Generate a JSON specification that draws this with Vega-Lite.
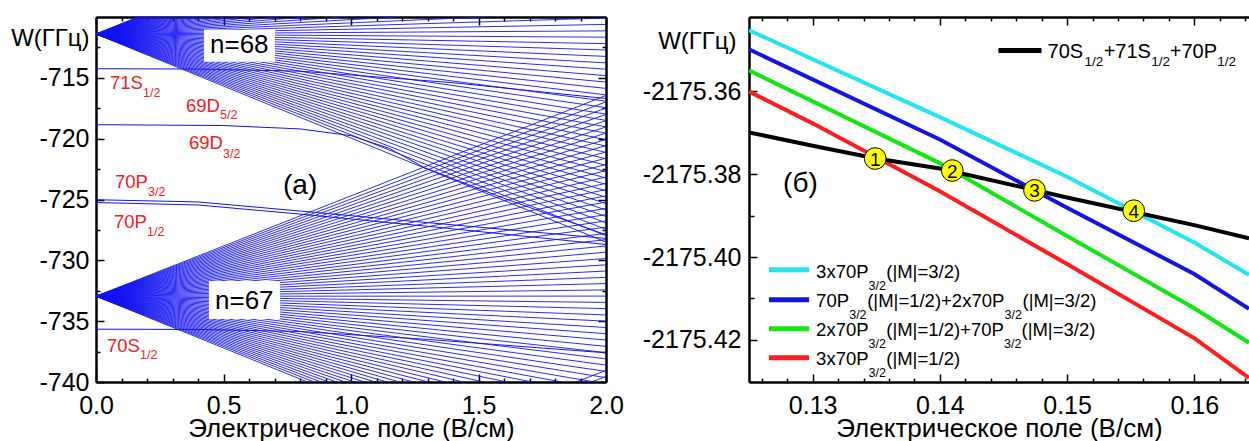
{
"$schema": "https://vega.github.io/schema/vega-lite/v6.json",
"padding": {"left": 10, "top": 16, "right": 0, "bottom": 0},
"spacing": 18,
"config": {
"font": "Liberation Sans",
"view": {"stroke": null},
"axis": {"grid": false, "labelFont": "Liberation Sans", "labelFontSize": 25, "labelColor": "#000", "titleFont": "Liberation Sans", "titleFontSize": 26, "titleFontWeight": "normal", "titleColor": "#000", "domainColor": "#000", "domainWidth": 2, "tickColor": "#000", "tickWidth": 1.5, "labelFlush": false, "labelOverlap": false}
},
"datasets": {
"fan": [
{"a":-711.4,"b":-728.50},{"a":-711.4,"b":-727.97},{"a":-711.4,"b":-727.45},{"a":-711.4,"b":-726.92},{"a":-711.4,"b":-726.40},{"a":-711.4,"b":-725.87},{"a":-711.4,"b":-725.34},{"a":-711.4,"b":-724.82},{"a":-711.4,"b":-724.29},{"a":-711.4,"b":-723.76},
{"a":-711.4,"b":-723.24},{"a":-711.4,"b":-722.71},{"a":-711.4,"b":-722.19},{"a":-711.4,"b":-721.66},{"a":-711.4,"b":-721.13},{"a":-711.4,"b":-720.61},{"a":-711.4,"b":-720.08},{"a":-711.4,"b":-719.55},{"a":-711.4,"b":-719.03},{"a":-711.4,"b":-718.50},
{"a":-711.4,"b":-717.98},{"a":-711.4,"b":-717.45},{"a":-711.4,"b":-716.92},{"a":-711.4,"b":-716.40},{"a":-711.4,"b":-715.87},{"a":-711.4,"b":-715.35},{"a":-711.4,"b":-714.82},{"a":-711.4,"b":-714.29},{"a":-711.4,"b":-713.77},{"a":-711.4,"b":-713.24},
{"a":-711.4,"b":-712.71},{"a":-711.4,"b":-712.19},{"a":-711.4,"b":-711.66},{"a":-711.4,"b":-711.14},{"a":-711.4,"b":-710.61},{"a":-711.4,"b":-710.08},{"a":-711.4,"b":-709.56},{"a":-711.4,"b":-709.03},{"a":-711.4,"b":-708.50},{"a":-711.4,"b":-707.98},
{"a":-711.4,"b":-707.45},{"a":-711.4,"b":-706.93},{"a":-711.4,"b":-706.40},{"a":-711.4,"b":-705.87},{"a":-711.4,"b":-705.35},{"a":-711.4,"b":-704.82},{"a":-711.4,"b":-704.29},{"a":-711.4,"b":-703.77},{"a":-711.4,"b":-703.24},{"a":-711.4,"b":-702.72},
{"a":-711.4,"b":-702.19},{"a":-711.4,"b":-701.66},{"a":-711.4,"b":-701.14},{"a":-711.4,"b":-700.61},{"a":-711.4,"b":-700.08},{"a":-711.4,"b":-699.56},{"a":-711.4,"b":-699.03},{"a":-711.4,"b":-698.51},{"a":-711.4,"b":-697.98},{"a":-711.4,"b":-697.45},
{"a":-711.4,"b":-696.93},{"a":-711.4,"b":-696.40},{"a":-711.4,"b":-695.88},{"a":-711.4,"b":-695.35},{"a":-711.4,"b":-694.82},{"a":-711.4,"b":-694.30},
{"a":-732.95,"b":-749.95},{"a":-732.95,"b":-749.43},{"a":-732.95,"b":-748.92},{"a":-732.95,"b":-748.40},{"a":-732.95,"b":-747.89},{"a":-732.95,"b":-747.37},{"a":-732.95,"b":-746.86},{"a":-732.95,"b":-746.34},{"a":-732.95,"b":-745.83},{"a":-732.95,"b":-745.31},
{"a":-732.95,"b":-744.80},{"a":-732.95,"b":-744.28},{"a":-732.95,"b":-743.77},{"a":-732.95,"b":-743.25},{"a":-732.95,"b":-742.73},{"a":-732.95,"b":-742.22},{"a":-732.95,"b":-741.70},{"a":-732.95,"b":-741.19},{"a":-732.95,"b":-740.67},{"a":-732.95,"b":-740.16},
{"a":-732.95,"b":-739.64},{"a":-732.95,"b":-739.13},{"a":-732.95,"b":-738.61},{"a":-732.95,"b":-738.10},{"a":-732.95,"b":-737.58},{"a":-732.95,"b":-737.07},{"a":-732.95,"b":-736.55},{"a":-732.95,"b":-736.03},{"a":-732.95,"b":-735.52},{"a":-732.95,"b":-735.00},
{"a":-732.95,"b":-734.49},{"a":-732.95,"b":-733.97},{"a":-732.95,"b":-733.46},{"a":-732.95,"b":-732.94},{"a":-732.95,"b":-732.43},{"a":-732.95,"b":-731.91},{"a":-732.95,"b":-731.40},{"a":-732.95,"b":-730.88},{"a":-732.95,"b":-730.37},{"a":-732.95,"b":-729.85},
{"a":-732.95,"b":-729.33},{"a":-732.95,"b":-728.82},{"a":-732.95,"b":-728.30},{"a":-732.95,"b":-727.79},{"a":-732.95,"b":-727.27},{"a":-732.95,"b":-726.76},{"a":-732.95,"b":-726.24},{"a":-732.95,"b":-725.73},{"a":-732.95,"b":-725.21},{"a":-732.95,"b":-724.70},
{"a":-732.95,"b":-724.18},{"a":-732.95,"b":-723.67},{"a":-732.95,"b":-723.15},{"a":-732.95,"b":-722.63},{"a":-732.95,"b":-722.12},{"a":-732.95,"b":-721.60},{"a":-732.95,"b":-721.09},{"a":-732.95,"b":-720.57},{"a":-732.95,"b":-720.06},{"a":-732.95,"b":-719.54},
{"a":-732.95,"b":-719.03},{"a":-732.95,"b":-718.51},{"a":-732.95,"b":-718.00},{"a":-732.95,"b":-717.48},{"a":-732.95,"b":-716.97},{"a":-732.95,"b":-716.45},
{"a":-755.26,"b":-739.05},{"a":-755.26,"b":-739.55},{"a":-755.26,"b":-740.05}
],
"low": [
{"id":"S71","e":0,"w":-714.25},{"id":"S71","e":0.4,"w":-714.28},{"id":"S71","e":0.8,"w":-714.45},{"id":"S71","e":1.4,"w":-715.4},{"id":"S71","e":2,"w":-716.7},
{"id":"D69","e":0,"w":-718.85},{"id":"D69","e":0.5,"w":-718.92},{"id":"D69","e":0.8,"w":-719.2},{"id":"D69","e":1.0,"w":-719.75},{"id":"D69","e":1.15,"w":-720.8},{"id":"D69","e":1.29,"w":-722.4},{"id":"D69","e":1.6,"w":-724.9},{"id":"D69","e":2,"w":-727.9},
{"id":"P3","e":0,"w":-725.02},{"id":"P3","e":0.4,"w":-725.2},{"id":"P3","e":0.8,"w":-725.95},{"id":"P3","e":1.3,"w":-726.9},{"id":"P3","e":2,"w":-728.2},
{"id":"P1","e":0,"w":-725.25},{"id":"P1","e":0.4,"w":-725.45},{"id":"P1","e":0.8,"w":-726.2},{"id":"P1","e":1.3,"w":-727.2},{"id":"P1","e":2,"w":-728.7},
{"id":"S70","e":0,"w":-735.66},{"id":"S70","e":0.4,"w":-735.68},{"id":"S70","e":0.8,"w":-735.85},{"id":"S70","e":1.3,"w":-736.5},{"id":"S70","e":2,"w":-737.6}
],
"box": [
{"x1":0.4235,"x2":0.702,"y1":-711.05,"y2":-713.68},
{"x1":0.443,"x2":0.7216,"y1":-731.69,"y2":-734.82}
],
"lt": [
{"t":"71S","k":"m","x":0.0549,"y":-715.905},{"t":"1/2","k":"s","x":0.1843,"y":-716.60},
{"t":"69D","k":"m","x":0.3529,"y":-717.796},{"t":"5/2","k":"s","x":0.4863,"y":-718.372},
{"t":"69D","k":"m","x":0.3647,"y":-720.839},{"t":"3/2","k":"s","x":0.498,"y":-721.579},
{"t":"70P","k":"m","x":0.0745,"y":-724.046},{"t":"3/2","k":"s","x":0.2039,"y":-724.704},
{"t":"70P","k":"m","x":0.0706,"y":-727.336},{"t":"1/2","k":"s","x":0.2,"y":-727.993},
{"t":"70S","k":"m","x":0.0431,"y":-737.533},{"t":"1/2","k":"s","x":0.1725,"y":-738.109},
{"t":"n=68","k":"n","x":0.4471,"y":-712.944},
{"t":"n=67","k":"n","x":0.4667,"y":-733.997},
{"t":"(a)","k":"a","x":0.7333,"y":-724.539}
],
"rl": [
{"s":"c","x":0.125,"y":-2175.3452},{"s":"c","x":0.14,"y":-2175.3662},{"s":"c","x":0.15,"y":-2175.3806},{"s":"c","x":0.16,"y":-2175.3965},{"s":"c","x":0.1643,"y":-2175.4043},
{"s":"b","x":0.125,"y":-2175.3498},{"s":"b","x":0.14,"y":-2175.3716},{"s":"b","x":0.15,"y":-2175.3881},{"s":"b","x":0.16,"y":-2175.4041},{"s":"b","x":0.1643,"y":-2175.4125},
{"s":"g","x":0.125,"y":-2175.3549},{"s":"g","x":0.14,"y":-2175.3773},{"s":"g","x":0.15,"y":-2175.3949},{"s":"g","x":0.16,"y":-2175.4124},{"s":"g","x":0.1643,"y":-2175.4207},
{"s":"r","x":0.125,"y":-2175.36},{"s":"r","x":0.13,"y":-2175.3677},{"s":"r","x":0.14,"y":-2175.3841},{"s":"r","x":0.15,"y":-2175.4017},{"s":"r","x":0.16,"y":-2175.4196},{"s":"r","x":0.1643,"y":-2175.4292},
{"s":"k","x":0.125,"y":-2175.3699},{"s":"k","x":0.13,"y":-2175.3731},{"s":"k","x":0.135,"y":-2175.3762},{"s":"k","x":0.14,"y":-2175.3786},{"s":"k","x":0.15,"y":-2175.3856},{"s":"k","x":0.16,"y":-2175.3923},{"s":"k","x":0.1643,"y":-2175.3955}
],
"rs": [
{"s":"k","x":0.144606,"x2":0.147992,"y":-2175.350085},
{"s":"c","x":0.126575,"x2":0.129724,"y":-2175.403047},
{"s":"b","x":0.126575,"x2":0.129724,"y":-2175.410302},
{"s":"g","x":0.126575,"x2":0.129724,"y":-2175.417315},
{"s":"r","x":0.126575,"x2":0.129724,"y":-2175.424329}
],
"pts": [
{"n":"1","x":0.13492,"y":-2175.3762},
{"n":"2","x":0.14098,"y":-2175.3791},
{"n":"3","x":0.14744,"y":-2175.3839},
{"n":"4","x":0.15524,"y":-2175.3888}
],
"rt": [
{"t":"3x70P","k":"m","x":0.130276,"y":-2175.404982},{"t":"3/2","k":"s","x":0.134402,"y":-2175.407885},{"t":"(|M|=3/2)","k":"m","x":0.135787,"y":-2175.404982},
{"t":"70P","k":"m","x":0.130276,"y":-2175.411995},{"t":"3/2","k":"s","x":0.132874,"y":-2175.414897},{"t":"(|M|=1/2)+2x70P","k":"m","x":0.134291,"y":-2175.411995},{"t":"3/2","k":"s","x":0.145079,"y":-2175.414897},{"t":"(|M|=3/2)","k":"m","x":0.146496,"y":-2175.411995},
{"t":"2x70P","k":"m","x":0.130276,"y":-2175.419008},{"t":"3/2","k":"s","x":0.134402,"y":-2175.42191},{"t":"(|M|=1/2)+70P","k":"m","x":0.135787,"y":-2175.419008},{"t":"3/2","k":"s","x":0.145047,"y":-2175.42191},{"t":"(|M|=3/2)","k":"m","x":0.146417,"y":-2175.419008},
{"t":"3x70P","k":"m","x":0.130276,"y":-2175.426022},{"t":"3/2","k":"s","x":0.134402,"y":-2175.428924},{"t":"(|M|=1/2)","k":"m","x":0.135787,"y":-2175.426022},
{"t":"70S","k":"M","x":0.148465,"y":-2175.351898},{"t":"1/2","k":"S","x":0.151378,"y":-2175.353833},{"t":"+71S","k":"M","x":0.152874,"y":-2175.351898},{"t":"1/2","k":"S","x":0.156614,"y":-2175.353833},{"t":"+70P","k":"M","x":0.158071,"y":-2175.351898},{"t":"1/2","k":"S","x":0.161811,"y":-2175.353833},
{"t":"(б)","k":"b","x":0.127677,"y":-2175.384184}
]
},
"hconcat": [
{
"width": 510, "height": 365,
"resolve": {"axis": {"x": "independent", "y": "independent"}},
"layer": [
{
"data": {"name": "low"},
"mark": {"type": "line", "color": "#1414f0", "strokeWidth": 1, "clip": true},
"encoding": {
"x": {"field": "e", "type": "quantitative", "scale": {"domain": [0, 2], "nice": false, "zero": false},
"axis": {"orient": "bottom", "values": [0, 0.5, 1, 1.5, 2], "format": ".1f", "tickSize": -8, "labelPadding": 19, "title": "Электрическое поле (В/см)", "titlePadding": -3}},
"y": {"field": "w", "type": "quantitative", "scale": {"domain": [-740, -710], "nice": false, "zero": false},
"axis": {"orient": "left", "values": [-740, -735, -730, -725, -720, -715], "labelExpr": "'' + datum.value", "tickSize": -8, "labelPadding": 15, "title": "W(ГГц)", "titleFontSize": 24, "titleAngle": 0, "titleAlign": "right", "titleBaseline": "middle", "titleX": -7, "titleY": 21}},
"detail": {"field": "id"}
}
},
{
"data": {"name": "fan"},
"mark": {"type": "rule", "color": "#1414f0", "strokeWidth": 0.9, "clip": true},
"encoding": {
"x": {"datum": 0, "type": "quantitative", "scale": {"domain": [0, 2], "nice": false, "zero": false},
"axis": {"orient": "bottom", "values": [0.1,0.2,0.3,0.4,0.6,0.7,0.8,0.9,1.1,1.2,1.3,1.4,1.6,1.7,1.8,1.9], "tickSize": -4, "labels": false, "title": null}},
"x2": {"datum": 2},
"y": {"field": "a", "type": "quantitative", "scale": {"domain": [-740, -710], "nice": false, "zero": false},
"axis": {"orient": "left", "values": [-737.5, -732.5, -727.5, -722.5, -717.5, -712.5], "tickSize": -4, "labels": false, "title": null}},
"y2": {"field": "b"}
}
},
{
"data": {"name": "box"},
"mark": {"type": "rect", "fill": "#ffffff"},
"encoding": {
"x": {"field": "x1", "type": "quantitative", "scale": {"domain": [0, 2], "nice": false, "zero": false},
"axis": {"orient": "top", "values": [0, 0.5, 1, 1.5, 2], "tickSize": -8, "labels": false, "title": null}},
"x2": {"field": "x2"},
"y": {"field": "y1", "type": "quantitative", "scale": {"domain": [-740, -710], "nice": false, "zero": false},
"axis": {"orient": "right", "values": [-735, -730, -725, -720, -715], "tickSize": -8, "labels": false, "title": null}},
"y2": {"field": "y2"}
}
},
{
"data": {"name": "lt"},
"transform": [{"filter": "datum.k == 'm'"}],
"mark": {"type": "text", "align": "left", "baseline": "alphabetic", "fontSize": 18.5, "color": "#f22020"},
"encoding": {
"x": {"field": "x", "type": "quantitative", "scale": {"domain": [0, 2], "nice": false, "zero": false},
"axis": {"orient": "top", "values": [0.1,0.2,0.3,0.4,0.6,0.7,0.8,0.9,1.1,1.2,1.3,1.4,1.6,1.7,1.8,1.9], "tickSize": -4, "labels": false, "title": null}},
"y": {"field": "y", "type": "quantitative", "scale": {"domain": [-740, -710], "nice": false, "zero": false},
"axis": {"orient": "right", "values": [-737.5, -732.5, -727.5, -722.5, -717.5, -712.5], "tickSize": -4, "labels": false, "title": null}},
"text": {"field": "t"}
}
},
{
"data": {"name": "lt"},
"transform": [{"filter": "datum.k == 's'"}],
"mark": {"type": "text", "align": "left", "baseline": "alphabetic", "fontSize": 12.5, "color": "#f22020"},
"encoding": {
"x": {"field": "x", "type": "quantitative", "scale": {"domain": [0, 2], "nice": false, "zero": false}, "axis": null},
"y": {"field": "y", "type": "quantitative", "scale": {"domain": [-740, -710], "nice": false, "zero": false}, "axis": null},
"text": {"field": "t"}
}
},
{
"data": {"name": "lt"},
"transform": [{"filter": "datum.k == 'n'"}],
"mark": {"type": "text", "align": "left", "baseline": "alphabetic", "fontSize": 26, "color": "#000"},
"encoding": {
"x": {"field": "x", "type": "quantitative", "scale": {"domain": [0, 2], "nice": false, "zero": false}, "axis": null},
"y": {"field": "y", "type": "quantitative", "scale": {"domain": [-740, -710], "nice": false, "zero": false}, "axis": null},
"text": {"field": "t"}
}
},
{
"data": {"name": "lt"},
"transform": [{"filter": "datum.k == 'a'"}],
"mark": {"type": "text", "align": "left", "baseline": "alphabetic", "fontSize": 28, "color": "#000"},
"encoding": {
"x": {"field": "x", "type": "quantitative", "scale": {"domain": [0, 2], "nice": false, "zero": false}, "axis": null},
"y": {"field": "y", "type": "quantitative", "scale": {"domain": [-740, -710], "nice": false, "zero": false}, "axis": null},
"text": {"field": "t"}
}
}
]
},
{
"width": 500, "height": 365,
"resolve": {"axis": {"x": "independent", "y": "independent"}},
"layer": [
{
"data": {"name": "rl"},
"mark": {"type": "line", "strokeWidth": 4, "clip": true},
"encoding": {
"x": {"field": "x", "type": "quantitative", "scale": {"domain": [0.125, 0.1643], "nice": false, "zero": false},
"axis": {"orient": "bottom", "values": [0.13, 0.14, 0.15, 0.16], "format": ".2f", "tickSize": -8, "labelPadding": 19, "title": "Электрическое поле (В/см)", "titlePadding": -3}},
"y": {"field": "y", "type": "quantitative", "scale": {"domain": [-2175.4302, -2175.342], "nice": false, "zero": false},
"axis": {"orient": "left", "values": [-2175.42, -2175.40, -2175.38, -2175.36], "labelExpr": "replace(format(datum.value, '.2f'), '−', '-')", "tickSize": -8, "labelPadding": 16, "title": "W(ГГц)", "titleFontSize": 24, "titleAngle": 0, "titleAlign": "right", "titleBaseline": "middle", "titleX": -13, "titleY": 24}},
"color": {"field": "s", "type": "nominal", "scale": {"domain": ["c", "b", "g", "r", "k"], "range": ["#22e4f2", "#1414e6", "#14e614", "#ff1c1c", "#000000"]}, "legend": null}
}
},
{
"data": {"name": "rs"},
"mark": {"type": "rule", "strokeWidth": 5},
"encoding": {
"x": {"field": "x", "type": "quantitative", "scale": {"domain": [0.125, 0.1643], "nice": false, "zero": false},
"axis": {"orient": "bottom", "values": [0.126,0.128,0.132,0.134,0.136,0.138,0.142,0.144,0.146,0.148,0.152,0.154,0.156,0.158,0.162,0.164], "tickSize": -4, "labels": false, "title": null}},
"x2": {"field": "x2"},
"y": {"field": "y", "type": "quantitative", "scale": {"domain": [-2175.4302, -2175.342], "nice": false, "zero": false},
"axis": {"orient": "left", "values": [-2175.41, -2175.39, -2175.37, -2175.35], "tickSize": -5, "labels": false, "title": null}},
"color": {"field": "s", "type": "nominal", "legend": null}
}
},
{
"data": {"name": "pts"},
"mark": {"type": "point", "shape": "circle", "filled": true, "size": 470, "fill": "#ffff00", "stroke": "#000", "strokeWidth": 1, "opacity": 1},
"encoding": {
"x": {"field": "x", "type": "quantitative", "scale": {"domain": [0.125, 0.1643], "nice": false, "zero": false},
"axis": {"orient": "top", "values": [0.13, 0.14, 0.15, 0.16], "tickSize": -8, "labels": false, "title": null}},
"y": {"field": "y", "type": "quantitative", "scale": {"domain": [-2175.4302, -2175.342], "nice": false, "zero": false}, "axis": null}
}
},
{
"data": {"name": "pts"},
"mark": {"type": "text", "align": "center", "baseline": "middle", "fontSize": 19, "color": "#000", "dy": 1},
"encoding": {
"x": {"field": "x", "type": "quantitative", "scale": {"domain": [0.125, 0.1643], "nice": false, "zero": false},
"axis": {"orient": "top", "values": [0.126,0.128,0.132,0.134,0.136,0.138,0.142,0.144,0.146,0.148,0.152,0.154,0.156,0.158,0.162,0.164], "tickSize": -4, "labels": false, "title": null}},
"y": {"field": "y", "type": "quantitative", "scale": {"domain": [-2175.4302, -2175.342], "nice": false, "zero": false}, "axis": null},
"text": {"field": "n"}
}
},
{
"data": {"name": "rt"},
"transform": [{"filter": "datum.k == 'm'"}],
"mark": {"type": "text", "align": "left", "baseline": "alphabetic", "fontSize": 18.5, "color": "#000"},
"encoding": {
"x": {"field": "x", "type": "quantitative", "scale": {"domain": [0.125, 0.1643], "nice": false, "zero": false}, "axis": null},
"y": {"field": "y", "type": "quantitative", "scale": {"domain": [-2175.4302, -2175.342], "nice": false, "zero": false}, "axis": null},
"text": {"field": "t"}
}
},
{
"data": {"name": "rt"},
"transform": [{"filter": "datum.k == 's'"}],
"mark": {"type": "text", "align": "left", "baseline": "alphabetic", "fontSize": 12.5, "color": "#000"},
"encoding": {
"x": {"field": "x", "type": "quantitative", "scale": {"domain": [0.125, 0.1643], "nice": false, "zero": false}, "axis": null},
"y": {"field": "y", "type": "quantitative", "scale": {"domain": [-2175.4302, -2175.342], "nice": false, "zero": false}, "axis": null},
"text": {"field": "t"}
}
},
{
"data": {"name": "rt"},
"transform": [{"filter": "datum.k == 'M'"}],
"mark": {"type": "text", "align": "left", "baseline": "alphabetic", "fontSize": 20, "color": "#000"},
"encoding": {
"x": {"field": "x", "type": "quantitative", "scale": {"domain": [0.125, 0.1643], "nice": false, "zero": false}, "axis": null},
"y": {"field": "y", "type": "quantitative", "scale": {"domain": [-2175.4302, -2175.342], "nice": false, "zero": false}, "axis": null},
"text": {"field": "t"}
}
},
{
"data": {"name": "rt"},
"transform": [{"filter": "datum.k == 'S'"}],
"mark": {"type": "text", "align": "left", "baseline": "alphabetic", "fontSize": 13.5, "color": "#000"},
"encoding": {
"x": {"field": "x", "type": "quantitative", "scale": {"domain": [0.125, 0.1643], "nice": false, "zero": false}, "axis": null},
"y": {"field": "y", "type": "quantitative", "scale": {"domain": [-2175.4302, -2175.342], "nice": false, "zero": false}, "axis": null},
"text": {"field": "t"}
}
},
{
"data": {"name": "rt"},
"transform": [{"filter": "datum.k == 'b'"}],
"mark": {"type": "text", "align": "left", "baseline": "alphabetic", "fontSize": 28, "color": "#000"},
"encoding": {
"x": {"field": "x", "type": "quantitative", "scale": {"domain": [0.125, 0.1643], "nice": false, "zero": false}, "axis": null},
"y": {"field": "y", "type": "quantitative", "scale": {"domain": [-2175.4302, -2175.342], "nice": false, "zero": false}, "axis": null},
"text": {"field": "t"}
}
}
]
}
]
}
